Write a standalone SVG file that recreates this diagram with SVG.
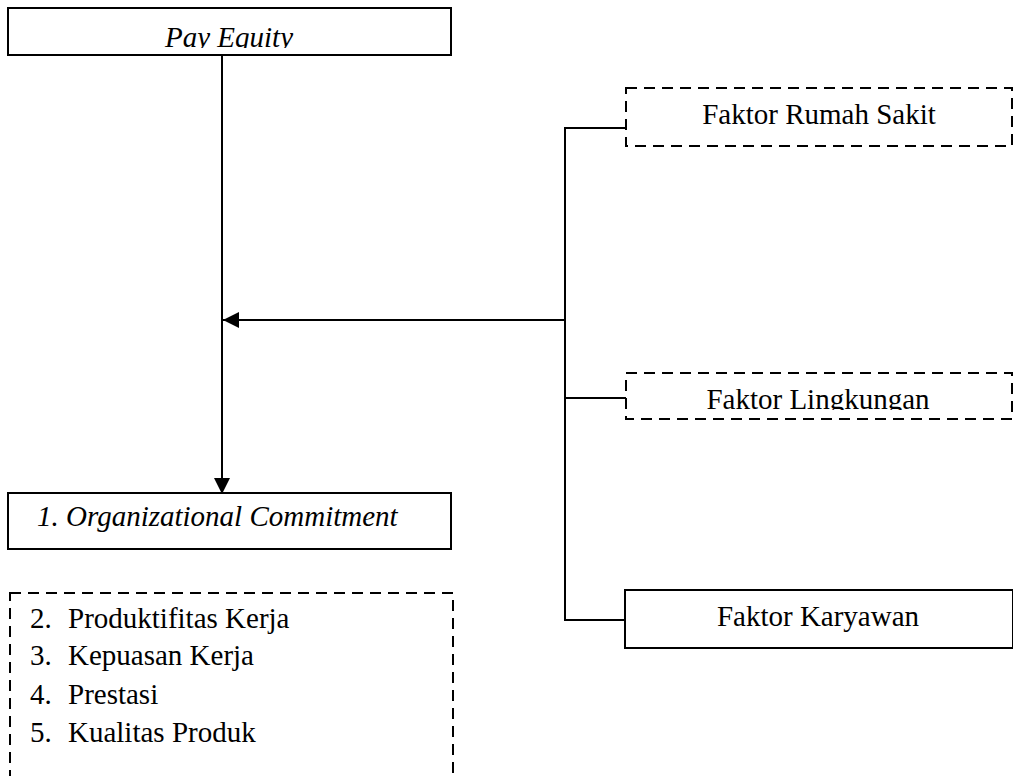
<svg xmlns="http://www.w3.org/2000/svg" width="1013" height="776" viewBox="0 0 1013 776">
<style>
.box{fill:#fff;stroke:#000;stroke-width:2}
.dash{fill:#fff;stroke:#000;stroke-width:2;stroke-dasharray:11 7}
.t{font-family:"Liberation Serif","Times New Roman",serif;font-size:29px;fill:#000}
.i{font-style:italic}
.ln{fill:none;stroke:#000;stroke-width:2}
</style>
<defs>
<marker id="ah" markerUnits="userSpaceOnUse" markerWidth="16" markerHeight="16" refX="16" refY="8" orient="auto">
<path d="M0,0 L16,8 L0,16 Z" fill="#000"/>
</marker>
<clipPath id="c1"><rect x="0" y="0" width="1013" height="48"/></clipPath>
<clipPath id="c2"><rect x="0" y="360" width="1013" height="50"/></clipPath>
</defs>
<g id="connectors">
<path class="ln" d="M222,55 V494" marker-end="url(#ah)"/>
<path class="ln" d="M565,320 H223" marker-end="url(#ah)"/>
<path class="ln" d="M626,128 H565 V620 H625"/>
<path class="ln" d="M565,398 H626"/>
</g>
<g id="pay-equity">
<rect class="box" x="8" y="8" width="443" height="47"/>
<text class="t i" x="229" y="47" text-anchor="middle" clip-path="url(#c1)">Pay Equity</text>
</g>
<g id="faktor-rumah-sakit">
<rect class="dash" x="626" y="88" width="386" height="58"/>
<text class="t" x="819" y="124" text-anchor="middle">Faktor Rumah Sakit</text>
</g>
<g id="faktor-lingkungan">
<rect class="dash" x="626" y="373" width="386" height="46"/>
<text class="t" x="818" y="409" text-anchor="middle" clip-path="url(#c2)">Faktor Lingkungan</text>
</g>
<g id="faktor-karyawan">
<rect class="box" x="625" y="590" width="388" height="58"/>
<text class="t" x="818" y="626" text-anchor="middle">Faktor Karyawan</text>
</g>
<g id="org-commitment">
<rect class="box" x="8" y="493" width="443" height="56"/>
<text class="t i" x="37" y="526">1. Organizational Commitment</text>
</g>
<g id="outcomes">
<rect class="dash" x="10" y="593" width="443" height="200"/>
<text class="t" x="30" y="628">2.</text><text class="t" x="68" y="628">Produktifitas Kerja</text>
<text class="t" x="30" y="665">3.</text><text class="t" x="68" y="665">Kepuasan Kerja</text>
<text class="t" x="30" y="704">4.</text><text class="t" x="68" y="704">Prestasi</text>
<text class="t" x="30" y="742">5.</text><text class="t" x="68" y="742">Kualitas Produk</text>
</g>
</svg>
